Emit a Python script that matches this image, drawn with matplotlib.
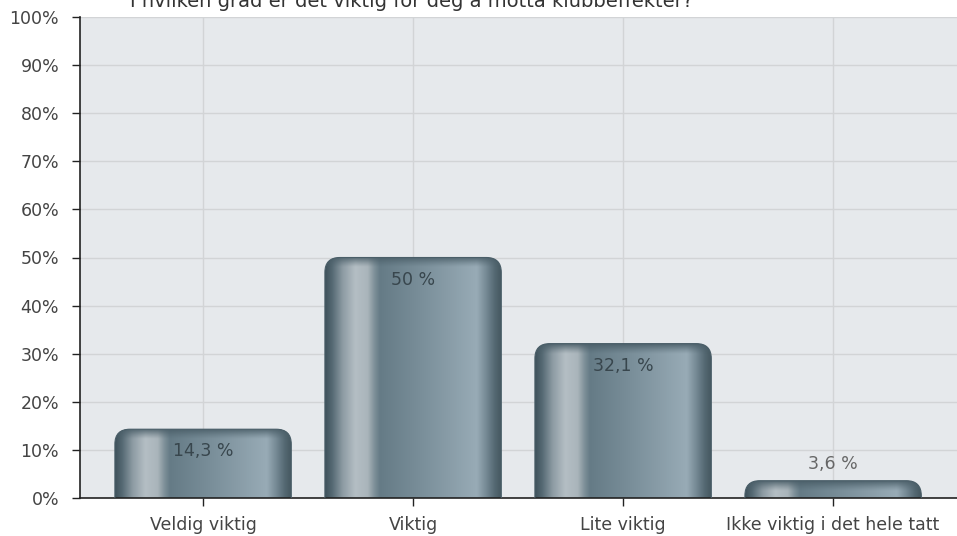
import numpy as np
import matplotlib.pyplot as plt
from matplotlib.patches import FancyBboxPatch
from matplotlib.colors import to_rgb

# chart data
categories = ["Veldig viktig", "Viktig", "Lite viktig", "Ikke viktig i det hele tatt"]
values = [14.3, 50.0, 32.1, 3.6]
value_labels = ["14,3 %", "50 %", "32,1 %", "3,6 %"]
yticks = list(range(0, 101, 10))
title = "I hvilken grad er det viktig for deg å motta klubbeffekter?"

plt.rcParams["font.family"] = ["DejaVu Sans"]

W, H = 957, 536
fig = plt.figure(figsize=(W / 100, H / 100), dpi=100)
ax = fig.add_axes([80 / W, 38 / H, (W - 80) / W, (H - 38 - 17) / H])
ax.set_facecolor("#e6e9ec")

ax.set_xlim(-0.586, 3.59)
ax.set_ylim(0, 100)

# px -> data helpers
px_x = 4.176 / (W - 80)
px_y = 100 / 481.0

# horizontal gradient for the cylinder look
stops = [
    (0.00, "#3f525b"), (0.04, "#566a74"), (0.10, "#8e9ca4"), (0.17, "#b4bec4"),
    (0.24, "#aab5bb"), (0.28, "#7d8f98"), (0.31, "#657b86"), (0.55, "#7a8f9a"),
    (0.86, "#98abb6"), (0.91, "#778b96"), (0.96, "#556973"), (1.00, "#44575f"),
]
pos = np.array([s[0] for s in stops])
cols = np.array([to_rgb(s[1]) for s in stops])
xs = np.linspace(0, 1, 256)
grad = np.stack([np.interp(xs, pos, cols[:, i]) for i in range(3)], axis=-1)[None, :, :]

# dark rim at the top
rim_n = 32
rim = np.zeros((rim_n, 1, 4))
rim[:, 0, :3] = to_rgb("#4a5e68")
rim[:, 0, 3] = np.linspace(0.9, 0.0, rim_n) ** 1.2

bar_w = 0.84
radius_px = 15
for i, v in enumerate(values):
    x0 = i - bar_w / 2
    patch = FancyBboxPatch(
        (x0, -10), bar_w, v + 10,
        boxstyle=f"round,pad=0,rounding_size={radius_px * px_x}",
        mutation_aspect=px_y / px_x,
        facecolor="none", edgecolor="#4a5e68", linewidth=0.8, zorder=3,
    )
    ax.add_patch(patch)
    im = ax.imshow(grad, extent=(x0, x0 + bar_w, 0, v), aspect="auto",
                   zorder=2, interpolation="bilinear")
    im.set_clip_path(patch)
    rim_h = min(10 * px_y, v)
    im2 = ax.imshow(rim, extent=(x0, x0 + bar_w, v - rim_h, v), aspect="auto",
                    zorder=2.5, interpolation="bilinear")
    im2.set_clip_path(patch)

    if v >= 10:
        ax.annotate(value_labels[i], (i, v), xytext=(0, -16), textcoords="offset points",
                    ha="center", va="center", fontsize=12.5, color="#38464d", zorder=4)
    else:
        ax.annotate(value_labels[i], (i, v), xytext=(0, 12), textcoords="offset points",
                    ha="center", va="center", fontsize=12.5, color="#666666", zorder=4)

ax.set_xticks(range(len(categories)))
ax.set_xticklabels(categories)
ax.set_yticks(yticks)
ax.set_yticklabels([f"{t}%" for t in yticks])
ax.tick_params(axis="both", labelsize=12.5, labelcolor="#444444", color="#222222",
               direction="out", length=6, width=1)
ax.tick_params(axis="y", pad=9)
ax.tick_params(axis="x", pad=7)

ax.grid(True, color="#d2d4d6", linewidth=1)
ax.set_axisbelow(True)
for s in ["top", "right"]:
    ax.spines[s].set_visible(False)
for s in ["left", "bottom"]:
    ax.spines[s].set_color("#222222")
    ax.spines[s].set_linewidth(1.2)

fig.text(412 / W, 1 - 7 / H, title, ha="center", va="baseline", fontsize=14, color="#333333")

fig.savefig("out.png", dpi=100)
